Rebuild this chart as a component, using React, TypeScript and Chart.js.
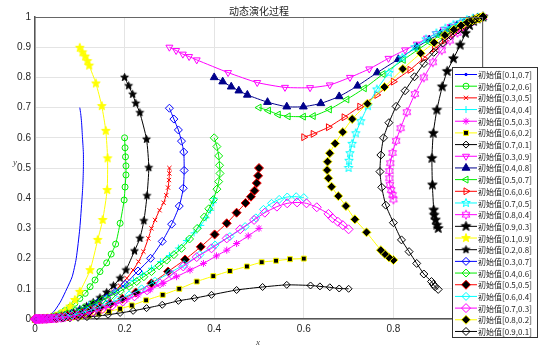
import React, { useEffect, useRef } from 'react';
import { Chart, registerables } from 'chart.js';

Chart.register(...registerables);

type P = [number, number];

// ---- data ----
const seriesLabels = [
  '初始值[0.1,0.7]', '初始值[0.2,0.6]', '初始值[0.3,0.5]', '初始值[0.4,0.4]', '初始值[0.5,0.3]',
  '初始值[0.6,0.2]', '初始值[0.7,0.1]', '初始值[0.3,0.9]', '初始值[0.4,0.8]', '初始值[0.5,0.7]',
  '初始值[0.6,0.6]', '初始值[0.7,0.5]', '初始值[0.8,0.4]', '初始值[0.9,0.3]', '初始值[0.1,0.9]',
  '初始值[0.2,0.8]', '初始值[0.3,0.7]', '初始值[0.4,0.6]', '初始值[0.5,0.5]', '初始值[0.6,0.4]',
  '初始值[0.7,0.3]', '初始值[0.8,0.2]', '初始值[0.9,0.1]',
];

const s01: P[] = [[0.1,0.7],[0.102,0.68],[0.104,0.65],[0.106,0.6],[0.108,0.55],[0.108,0.5],[0.107,0.45],[0.105,0.4],[0.1,0.3],[0.092,0.2],[0.083,0.14],[0.071,0.1],[0.058,0.06],[0.045,0.03],[0.033,0.012],[0.022,0.004],[0.012,0.001],[0.005,0.0002],[0,0]];
const s02: P[] = [[0.2,0.6],[0.201,0.567],[0.202,0.537],[0.203,0.507],[0.203,0.477],[0.201,0.437],[0.199,0.394],[0.19,0.317],[0.18,0.248],[0.17,0.215],[0.16,0.186],[0.145,0.157],[0.134,0.129],[0.123,0.107],[0.112,0.085],[0.1,0.068],[0.089,0.052],[0.078,0.039],[0.067,0.028],[0.057,0.019],[0.047,0.012],[0.038,0.007],[0.03,0.004],[0.022,0.002],[0.015,0.001],[0.008,0.0003],[0,0]];
const s03: P[] = [[0.3,0.5],[0.3,0.482],[0.299,0.46],[0.297,0.435],[0.293,0.41],[0.287,0.385],[0.278,0.36],[0.268,0.328],[0.26,0.3],[0.253,0.267],[0.242,0.223],[0.231,0.19],[0.219,0.162],[0.205,0.135],[0.19,0.11],[0.175,0.09],[0.16,0.072],[0.145,0.057],[0.13,0.044],[0.115,0.033],[0.1,0.024],[0.085,0.017],[0.07,0.011],[0.056,0.007],[0.044,0.004],[0.033,0.002],[0.023,0.001],[0.014,0.0004],[0.006,0.0001],[0,0]];
const s04: P[] = [[0.4,0.4],[0.398,0.385],[0.392,0.36],[0.382,0.335],[0.37,0.31],[0.355,0.285],[0.338,0.26],[0.32,0.235],[0.3,0.21],[0.28,0.19],[0.26,0.168],[0.24,0.148],[0.22,0.128],[0.2,0.11],[0.18,0.093],[0.16,0.077],[0.14,0.062],[0.12,0.048],[0.1,0.035],[0.083,0.025],[0.067,0.017],[0.053,0.011],[0.041,0.007],[0.03,0.004],[0.021,0.002],[0.013,0.001],[0.006,0.0003],[0,0]];
const s05: P[] = [[0.5,0.3],[0.476,0.275],[0.45,0.25],[0.428,0.228],[0.405,0.209],[0.376,0.184],[0.346,0.162],[0.316,0.14],[0.286,0.118],[0.257,0.097],[0.23,0.08],[0.205,0.065],[0.18,0.051],[0.157,0.04],[0.135,0.03],[0.115,0.022],[0.097,0.016],[0.08,0.011],[0.065,0.007],[0.052,0.0045],[0.04,0.0028],[0.03,0.0016],[0.021,0.0008],[0.013,0.0004],[0.006,0.0001],[0,0]];
const s06: P[] = [[0.6,0.2],[0.569,0.198],[0.538,0.193],[0.506,0.188],[0.473,0.174],[0.435,0.159],[0.398,0.142],[0.361,0.124],[0.322,0.1],[0.285,0.08],[0.248,0.062],[0.216,0.045],[0.19,0.034],[0.165,0.025],[0.142,0.018],[0.12,0.012],[0.1,0.008],[0.082,0.005],[0.066,0.003],[0.052,0.0018],[0.04,0.001],[0.029,0.0005],[0.019,0.0002],[0.01,0.0001],[0,0]];
const s07: P[] = [[0.7,0.1],[0.679,0.101],[0.658,0.105],[0.636,0.108],[0.615,0.111],[0.562,0.113],[0.508,0.106],[0.45,0.096],[0.394,0.08],[0.356,0.069],[0.32,0.06],[0.284,0.047],[0.249,0.036],[0.219,0.027],[0.19,0.02],[0.163,0.014],[0.138,0.0095],[0.116,0.0063],[0.096,0.004],[0.078,0.0025],[0.062,0.0015],[0.048,0.0009],[0.036,0.0005],[0.025,0.0002],[0.015,0.0001],[0.007,0],[0,0]];
const s08: P[] = [[0.3,0.9],[0.315,0.889],[0.33,0.877],[0.344,0.869],[0.361,0.858],[0.431,0.816],[0.496,0.783],[0.558,0.767],[0.614,0.766],[0.658,0.775],[0.703,0.8],[0.746,0.828],[0.789,0.863],[0.826,0.891],[0.852,0.91],[0.875,0.93],[0.895,0.945],[0.912,0.958],[0.928,0.968],[0.942,0.976],[0.955,0.983],[0.966,0.988],[0.976,0.992],[0.985,0.995],[0.993,0.998],[1,1]];
const s09: P[] = [[0.4,0.8],[0.419,0.786],[0.438,0.769],[0.455,0.756],[0.474,0.742],[0.519,0.718],[0.562,0.703],[0.599,0.703],[0.638,0.714],[0.679,0.737],[0.72,0.772],[0.764,0.816],[0.811,0.86],[0.852,0.9],[0.88,0.925],[0.905,0.945],[0.925,0.96],[0.942,0.972],[0.957,0.981],[0.969,0.988],[0.979,0.993],[0.988,0.996],[1,1]];
const s10: P[] = [[0.5,0.7],[0.521,0.69],[0.543,0.677],[0.565,0.671],[0.599,0.67],[0.621,0.672],[0.657,0.694],[0.696,0.727],[0.735,0.764],[0.777,0.811],[0.822,0.858],[0.855,0.892],[0.88,0.917],[0.903,0.938],[0.922,0.954],[0.939,0.967],[0.953,0.977],[0.966,0.985],[0.977,0.991],[0.987,0.996],[1,1]];
const s11: P[] = [[0.6,0.602],[0.621,0.613],[0.655,0.635],[0.69,0.668],[0.725,0.703],[0.763,0.742],[0.8,0.786],[0.837,0.825],[0.867,0.863],[0.892,0.895],[0.914,0.922],[0.933,0.943],[0.95,0.96],[0.964,0.974],[0.977,0.985],[0.988,0.993],[1,1]];
const s12: P[] = [[0.7,0.5],[0.701,0.524],[0.703,0.549],[0.708,0.58],[0.716,0.615],[0.727,0.655],[0.743,0.705],[0.763,0.76],[0.79,0.815],[0.82,0.865],[0.848,0.9],[0.873,0.926],[0.896,0.946],[0.916,0.962],[0.934,0.974],[0.95,0.983],[0.964,0.99],[0.977,0.995],[0.989,0.998],[1,1]];
const s13: P[] = [[0.8,0.396],[0.798,0.411],[0.795,0.427],[0.792,0.444],[0.791,0.466],[0.791,0.49],[0.793,0.516],[0.798,0.55],[0.806,0.59],[0.816,0.632],[0.83,0.685],[0.848,0.745],[0.868,0.8],[0.888,0.85],[0.908,0.89],[0.926,0.922],[0.943,0.948],[0.958,0.967],[0.971,0.981],[0.983,0.991],[1,1]];
const s14: P[] = [[0.9,0.3],[0.897,0.311],[0.894,0.328],[0.891,0.344],[0.89,0.361],[0.887,0.444],[0.886,0.532],[0.889,0.615],[0.897,0.692],[0.909,0.769],[0.92,0.82],[0.934,0.862],[0.949,0.907],[0.961,0.946],[0.97,0.972],[0.979,0.986],[0.987,0.994],[1,1]];
const s15: P[] = [[0.1,0.898],[0.106,0.883],[0.112,0.869],[0.117,0.854],[0.121,0.839],[0.136,0.78],[0.149,0.705],[0.158,0.623],[0.162,0.532],[0.161,0.427],[0.151,0.328],[0.14,0.262],[0.123,0.162],[0.1,0.09],[0.089,0.063],[0.078,0.041],[0.067,0.026],[0.056,0.016],[0.046,0.009],[0.037,0.005],[0.028,0.0025],[0.02,0.001],[0.012,0.0004],[0.005,0.0001],[0,0]];
const s16: P[] = [[0.2,0.8],[0.209,0.772],[0.218,0.744],[0.225,0.714],[0.234,0.683],[0.249,0.595],[0.254,0.501],[0.25,0.408],[0.243,0.325],[0.234,0.267],[0.222,0.225],[0.203,0.162],[0.19,0.135],[0.175,0.11],[0.16,0.088],[0.145,0.07],[0.13,0.055],[0.115,0.042],[0.1,0.031],[0.086,0.022],[0.072,0.015],[0.059,0.01],[0.047,0.006],[0.036,0.0035],[0.026,0.0018],[0.017,0.0008],[0.009,0.0003],[0,0]];
const s17: P[] = [[0.3,0.698],[0.31,0.662],[0.32,0.626],[0.327,0.589],[0.332,0.553],[0.333,0.492],[0.331,0.433],[0.322,0.374],[0.305,0.314],[0.284,0.257],[0.258,0.201],[0.23,0.159],[0.201,0.115],[0.18,0.09],[0.16,0.07],[0.14,0.054],[0.12,0.04],[0.1,0.028],[0.082,0.019],[0.066,0.012],[0.052,0.007],[0.04,0.004],[0.029,0.002],[0.019,0.001],[0.01,0.0003],[0,0]];
const s18: P[] = [[0.4,0.6],[0.406,0.571],[0.41,0.54],[0.412,0.509],[0.413,0.482],[0.41,0.455],[0.406,0.43],[0.398,0.395],[0.388,0.365],[0.378,0.338],[0.362,0.3],[0.345,0.265],[0.327,0.234],[0.31,0.213],[0.294,0.195],[0.277,0.176],[0.26,0.157],[0.243,0.14],[0.227,0.124],[0.21,0.108],[0.19,0.092],[0.17,0.077],[0.15,0.063],[0.13,0.05],[0.11,0.038],[0.09,0.027],[0.072,0.018],[0.056,0.011],[0.042,0.006],[0.03,0.003],[0.02,0.0015],[0.011,0.0006],[0.005,0.0002],[0,0]];
const s19: P[] = [[0.5,0.5],[0.498,0.474],[0.495,0.45],[0.49,0.425],[0.482,0.405],[0.47,0.384],[0.45,0.352],[0.428,0.317],[0.401,0.28],[0.37,0.239],[0.335,0.197],[0.297,0.157],[0.26,0.118],[0.225,0.088],[0.195,0.067],[0.168,0.05],[0.145,0.037],[0.124,0.027],[0.105,0.019],[0.088,0.013],[0.073,0.009],[0.059,0.006],[0.047,0.0035],[0.036,0.002],[0.026,0.001],[0.017,0.0005],[0.009,0.0002],[0,0]];
const s20: P[] = [[0.6,0.402],[0.583,0.405],[0.563,0.404],[0.545,0.396],[0.528,0.383],[0.51,0.363],[0.493,0.335],[0.469,0.306],[0.435,0.273],[0.402,0.245],[0.368,0.213],[0.333,0.18],[0.3,0.152],[0.268,0.125],[0.238,0.1],[0.21,0.08],[0.184,0.063],[0.16,0.049],[0.138,0.037],[0.118,0.027],[0.1,0.019],[0.083,0.013],[0.068,0.0085],[0.055,0.0055],[0.043,0.0033],[0.032,0.0018],[0.022,0.0009],[0.013,0.0004],[0.005,0.0001],[0,0]];
const s21: P[] = [[0.7,0.297],[0.687,0.311],[0.676,0.322],[0.664,0.334],[0.655,0.348],[0.629,0.37],[0.606,0.383],[0.585,0.386],[0.563,0.383],[0.54,0.372],[0.513,0.352],[0.489,0.328],[0.458,0.297],[0.428,0.267],[0.394,0.234],[0.361,0.205],[0.331,0.174],[0.305,0.147],[0.279,0.118],[0.25,0.095],[0.222,0.075],[0.196,0.058],[0.172,0.044],[0.15,0.033],[0.13,0.024],[0.112,0.017],[0.095,0.012],[0.08,0.008],[0.066,0.005],[0.058,0.0038],[0.051,0.003],[0.045,0.0023],[0.04,0.0018],[0.035,0.0014],[0.031,0.0011],[0.027,0.0008],[0.024,0.0006],[0.021,0.0005],[0.018,0.0004],[0.015,0.0003],[0.013,0.0002],[0.011,0.00015],[0.009,0.0001],[0.007,0.00007],[0.005,0.00005],[0.004,0],[0.003,0],[0.002,0],[0.001,0],[0,0]];
const s22: P[] = [[0.8,0.195],[0.79,0.204],[0.781,0.215],[0.772,0.228],[0.74,0.287],[0.714,0.33],[0.694,0.374],[0.677,0.407],[0.662,0.438],[0.655,0.466],[0.652,0.493],[0.653,0.521],[0.658,0.549],[0.67,0.581],[0.687,0.619],[0.708,0.662],[0.742,0.713],[0.78,0.768],[0.821,0.828],[0.861,0.88],[0.891,0.915],[0.915,0.94],[0.935,0.958],[0.951,0.972],[0.965,0.982],[0.976,0.989],[0.982,0.992],[0.986,0.994],[0.989,0.995],[0.992,0.997],[0.994,0.998],[0.996,0.998],[0.998,0.999],[0.999,1],[1,1]];
const s23: P[] = [[0.9,0.098],[0.893,0.107],[0.889,0.115],[0.885,0.124],[0.868,0.149],[0.852,0.184],[0.835,0.223],[0.818,0.262],[0.8,0.319],[0.783,0.377],[0.774,0.436],[0.77,0.488],[0.772,0.543],[0.778,0.6],[0.79,0.65],[0.806,0.704],[0.826,0.756],[0.847,0.802],[0.868,0.846],[0.89,0.883],[0.91,0.914],[0.928,0.938],[0.944,0.957],[0.958,0.972],[0.97,0.983],[0.981,0.991],[0.991,0.996],[1,1]];

const allSeries: P[][] = [s01,s02,s03,s04,s05,s06,s07,s08,s09,s10,s11,s12,s13,s14,s15,s16,s17,s18,s19,s20,s21,s22,s23];

const xTicks = [0, 0.2, 0.4, 0.6, 0.8, 1];
const yTicks = [0, 0.1, 0.2, 0.3, 0.4, 0.5, 0.6, 0.7, 0.8, 0.9, 1];

// ---- marker helpers ----
function makeStar(n: number, R: number, inner: number, fill: string | null, stroke: string): HTMLCanvasElement {
  const size = Math.ceil(2 * R + 3);
  const c = document.createElement('canvas');
  c.width = size; c.height = size;
  const ctx = c.getContext('2d')!;
  const cx = size / 2, cy = size / 2;
  ctx.beginPath();
  for (let i = 0; i < 2 * n; i++) {
    const rr = i % 2 === 0 ? R : R * inner;
    const a = -Math.PI / 2 + (i * Math.PI) / n;
    const px = cx + rr * Math.cos(a), py = cy + rr * Math.sin(a);
    if (i === 0) ctx.moveTo(px, py); else ctx.lineTo(px, py);
  }
  ctx.closePath();
  if (fill) { ctx.fillStyle = fill; ctx.fill(); }
  ctx.strokeStyle = stroke; ctx.lineWidth = 1; ctx.stroke();
  return c;
}

type Sty = { c: string; m: any; r: number; fill: string; edge: string; rot?: number; lr?: number };

function buildStyles(): Sty[] {
  const B = '#0000ff', G = '#00ee00', R = '#ff0000', C = '#00ffff', M = '#ff00ff', Y = '#ffff00', K = '#000000', N = '#00008b';
  const T = 'rgba(0,0,0,0)';
  return [
    { c: B, m: 'circle', r: 0, fill: B, edge: B, lr: 1.2 },
    { c: G, m: 'circle', r: 3, fill: T, edge: G },
    { c: R, m: 'crossRot', r: 3, fill: T, edge: R },
    { c: C, m: 'cross', r: 3.5, fill: T, edge: C },
    { c: M, m: 'star', r: 3.5, fill: T, edge: M },
    { c: Y, m: 'rect', r: 3.5, fill: K, edge: Y },
    { c: K, m: 'rectRot', r: 3.5, fill: T, edge: K },
    { c: M, m: 'triangle', r: 4, fill: T, edge: M, rot: 180 },
    { c: N, m: 'triangle', r: 4.5, fill: N, edge: N },
    { c: G, m: 'triangle', r: 4, fill: T, edge: G, rot: -90 },
    { c: R, m: 'triangle', r: 4, fill: T, edge: R, rot: 90 },
    { c: C, m: makeStar(5, 4.5, 0.42, null, C), r: 4.5, fill: T, edge: C },
    { c: M, m: makeStar(6, 4.5, 0.55, null, M), r: 4.5, fill: T, edge: M },
    { c: K, m: makeStar(5, 5, 0.42, K, K), r: 5, fill: K, edge: K },
    { c: Y, m: makeStar(5, 4.5, 0.42, Y, Y), r: 4.5, fill: Y, edge: Y },
    { c: K, m: makeStar(5, 4, 0.42, K, K), r: 4, fill: K, edge: K },
    { c: B, m: 'rectRot', r: 4, fill: T, edge: B },
    { c: G, m: 'rectRot', r: 4, fill: T, edge: G },
    { c: R, m: 'rectRot', r: 4.5, fill: K, edge: R },
    { c: C, m: 'rectRot', r: 4, fill: T, edge: C },
    { c: M, m: 'rectRot', r: 4.5, fill: T, edge: M },
    { c: Y, m: 'rectRot', r: 4.5, fill: K, edge: Y },
    { c: K, m: 'rectRot', r: 4, fill: T, edge: K },
  ];
}

function drawMarker(ctx: CanvasRenderingContext2D, s: Sty, x: number, y: number) {
  ctx.save();
  ctx.translate(x, y);
  ctx.lineWidth = 1;
  ctx.strokeStyle = s.edge;
  ctx.fillStyle = s.fill;
  const r = s.lr || s.r;
  if (typeof s.m !== 'string') {
    const img = s.m as HTMLCanvasElement;
    ctx.drawImage(img, -img.width / 2, -img.height / 2);
    ctx.restore();
    return;
  }
  ctx.beginPath();
  switch (s.m) {
    case 'circle':
      ctx.arc(0, 0, r, 0, Math.PI * 2);
      ctx.fill(); ctx.stroke();
      break;
    case 'cross':
      ctx.moveTo(-r, 0); ctx.lineTo(r, 0); ctx.moveTo(0, -r); ctx.lineTo(0, r); ctx.stroke();
      break;
    case 'crossRot': {
      const d = r * Math.SQRT1_2;
      ctx.moveTo(-d, -d); ctx.lineTo(d, d); ctx.moveTo(-d, d); ctx.lineTo(d, -d); ctx.stroke();
      break;
    }
    case 'star': {
      const d = r * Math.SQRT1_2;
      ctx.moveTo(-r, 0); ctx.lineTo(r, 0); ctx.moveTo(0, -r); ctx.lineTo(0, r);
      ctx.moveTo(-d, -d); ctx.lineTo(d, d); ctx.moveTo(-d, d); ctx.lineTo(d, -d); ctx.stroke();
      break;
    }
    case 'rect': {
      const h = r * Math.SQRT1_2;
      ctx.rect(-h, -h, 2 * h, 2 * h); ctx.fill(); ctx.stroke();
      break;
    }
    case 'rectRot':
      ctx.moveTo(-r, 0); ctx.lineTo(0, -r); ctx.lineTo(r, 0); ctx.lineTo(0, r); ctx.closePath();
      ctx.fill(); ctx.stroke();
      break;
    case 'triangle': {
      ctx.rotate(((s.rot || 0) * Math.PI) / 180);
      ctx.moveTo(0, -r); ctx.lineTo(r * 0.866, r * 0.5); ctx.lineTo(-r * 0.866, r * 0.5); ctx.closePath();
      ctx.fill(); ctx.stroke();
      break;
    }
  }
  ctx.restore();
}

export default function App() {
  const ref = useRef<HTMLCanvasElement>(null);
  useEffect(() => {
    document.body.style.margin = '0';
    const styles = buildStyles();
    const n = allSeries.length;
    const datasets = allSeries.map((pts, i) => {
      const s = styles[i];
      return {
        label: seriesLabels[i],
        data: pts.map(([x, y]) => ({ x, y })),
        showLine: true,
        borderColor: s.c,
        borderWidth: 1,
        tension: 0.2,
        pointStyle: s.m,
        pointRadius: s.r,
        pointRotation: s.rot || 0,
        pointBackgroundColor: s.fill,
        pointBorderColor: s.edge,
        pointBorderWidth: 1,
        pointHoverRadius: s.r,
        clip: false as any,
        order: n - i,
      };
    });

    const overlay = {
      id: 'overlay',
      afterDraw(chart: any) {
        const ctx: CanvasRenderingContext2D = chart.ctx;
        const { left, right, top, bottom } = chart.chartArea;
        ctx.save();
        // box top/right
        ctx.strokeStyle = '#666';
        ctx.lineWidth = 1;
        ctx.beginPath();
        ctx.moveTo(left, top + 0.5); ctx.lineTo(right, top + 0.5);
        ctx.moveTo(right - 0.5, top); ctx.lineTo(right - 0.5, bottom);
        ctx.stroke();
        // title
        ctx.fillStyle = '#222';
        ctx.font = '10px "Noto Sans CJK SC"';
        ctx.textAlign = 'center';
        ctx.textBaseline = 'middle';
        ctx.fillText('动态演化过程', (left + right) / 2, 11);
        // axis labels
        ctx.fillStyle = '#444';
        ctx.font = 'italic 9px "Liberation Serif"';
        ctx.fillText('x', (left + right) / 2 - 1, 343);
        ctx.fillText('y', 15, 163);
        // legend
        const lx = 452, ly = 67, lw = 85, lh = 270;
        ctx.fillStyle = '#ffffff';
        ctx.fillRect(lx, ly, lw, lh);
        ctx.strokeStyle = '#333';
        ctx.strokeRect(lx + 0.5, ly + 0.5, lw, lh);
        ctx.font = '8px "Noto Sans CJK SC"';
        ctx.textAlign = 'left';
        ctx.textBaseline = 'middle';
        for (let i = 0; i < n; i++) {
          const y = 74.5 + i * 11.68;
          const s = styles[i];
          ctx.strokeStyle = s.c;
          ctx.lineWidth = 1;
          ctx.beginPath();
          ctx.moveTo(455, y); ctx.lineTo(477, y);
          ctx.stroke();
          drawMarker(ctx, s, 466, y);
          ctx.fillStyle = '#222';
          ctx.fillText(seriesLabels[i], 478, y + 0.5);
        }
        ctx.restore();
      },
    };

    const chart = new Chart(ref.current!, {
      type: 'scatter',
      data: { datasets: datasets as any },
      options: {
        responsive: false,
        animation: false,
        devicePixelRatio: 1,
        layout: { padding: { left: 0, right: 66, top: 17, bottom: 0 } },
        plugins: { legend: { display: false }, tooltip: { enabled: false }, title: { display: false } },
        scales: {
          x: {
            type: 'linear',
            min: 0,
            max: 1,
            afterBuildTicks: (axis: any) => { axis.ticks = xTicks.map((v) => ({ value: v })); },
            afterFit: (axis: any) => { axis.height = 35; },
            ticks: {
              padding: 4,
              color: '#262626',
              font: { family: '"Liberation Sans", Arial, sans-serif', size: 10 },
              callback: (v: any) => String(Math.round(Number(v) * 10) / 10),
            },
            grid: { color: '#e4e4e4', drawTicks: false, lineWidth: 1 },
            border: { display: true, color: '#555', width: 1.5 },
          },
          y: {
            type: 'linear',
            min: 0,
            max: 1,
            afterBuildTicks: (axis: any) => { axis.ticks = yTicks.map((v) => ({ value: v })); },
            afterFit: (axis: any) => { axis.width = 35; },
            ticks: {
              padding: 4,
              color: '#262626',
              font: { family: '"Liberation Sans", Arial, sans-serif', size: 10 },
              callback: (v: any) => String(Math.round(Number(v) * 10) / 10),
            },
            grid: { color: '#e4e4e4', drawTicks: false, lineWidth: 1 },
            border: { display: true, color: '#555', width: 1.5 },
          },
        },
      },
      plugins: [overlay],
    });
    return () => chart.destroy();
  }, []);
  return <canvas ref={ref} width={549} height={354} style={{ display: 'block' }} />;
}
